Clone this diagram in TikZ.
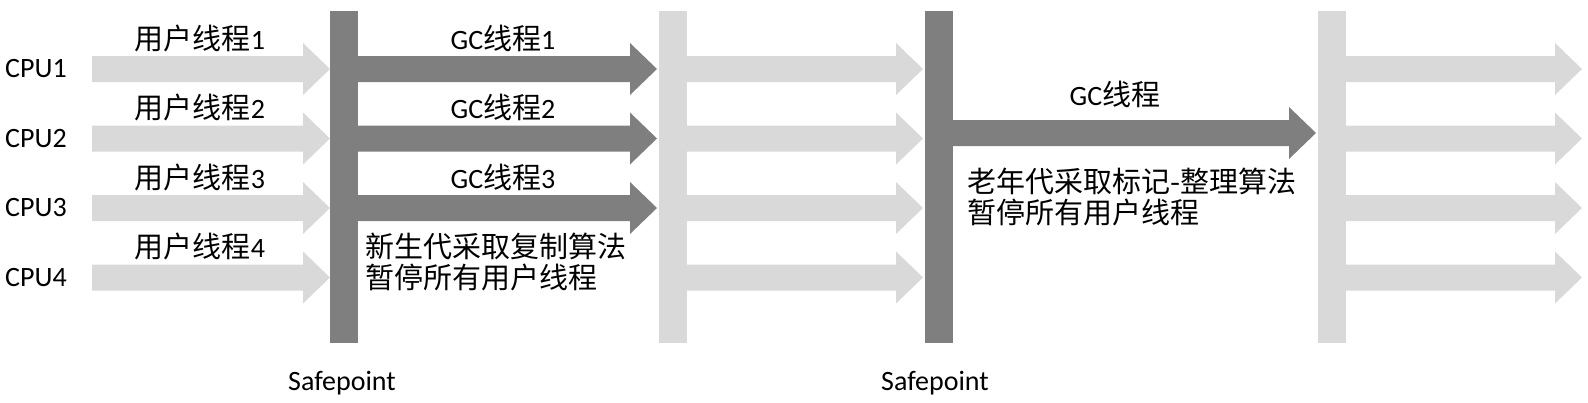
\documentclass[tikz,border=0pt]{standalone}
\usepackage{fontspec}
\setmainfont{Carlito}
\newfontfamily\cjk{Noto Sans CJK SC}
\definecolor{darkg}{HTML}{7F7F7F}
\definecolor{lightg}{HTML}{D9D9D9}
\newcommand\barrow[4]{\fill[#1] (#2,#4-13) -- (#3-27,#4-13) -- (#3-27,#4-26) -- (#3,#4) -- (#3-27,#4+26) -- (#3-27,#4+13) -- (#2,#4+13) -- cycle;}
\begin{document}
\begin{tikzpicture}[x=1pt,y=-1pt,
  lbl/.style={inner sep=0pt,font=\fontsize{28}{31}\selectfont},
  multi/.style={inner sep=0pt,anchor=west,align=left,font=\fontsize{29}{31}\selectfont\cjk},
  darkbar/.style={fill=darkg,draw=none,inner sep=0pt,minimum width=28pt,minimum height=332pt},
  lightbar/.style={fill=lightg,draw=none,inner sep=0pt,minimum width=28pt,minimum height=332pt}]
\useasboundingbox (0,0) rectangle (1588,402);
% arrows
\foreach \y in {69,138.5,208,277.5}{
  \barrow{lightg}{92}{330}{\y}
  \barrow{lightg}{687}{923}{\y}
  \barrow{lightg}{1346}{1582}{\y}
}
\foreach \y in {69,138.5,208}{
  \barrow{darkg}{358}{657}{\y}
}
\barrow{darkg}{953}{1316}{133}
% bars
\node[darkbar] (sp1) at (344,177) {};
\node[lightbar] (b2) at (673,177) {};
\node[darkbar] (sp2) at (939,177) {};
\node[lightbar] (b4) at (1332,177) {};
% labels
\node[lbl] (c1) at (36,69) {CPU1};
\node[lbl] (c2) at (36,138.5) {CPU2};
\node[lbl] (c3) at (36,208) {CPU3};
\node[lbl] (c4) at (36,277.5) {CPU4};
\node[lbl] (u1) at (200,38) {{\fontsize{29}{31}\cjk 用户线程}1};
\node[lbl] (u2) at (200,107) {{\fontsize{29}{31}\cjk 用户线程}2};
\node[lbl] (u3) at (200,177) {{\fontsize{29}{31}\cjk 用户线程}3};
\node[lbl] (u4) at (200,246) {{\fontsize{29}{31}\cjk 用户线程}4};
\node[lbl] (g1) at (503,38) {GC{\fontsize{29}{31}\cjk 线程}1};
\node[lbl] (g2) at (503,107) {GC{\fontsize{29}{31}\cjk 线程}2};
\node[lbl] (g3) at (503,177) {GC{\fontsize{29}{31}\cjk 线程}3};
\node[lbl] (g) at (1115,94) {GC{\fontsize{29}{31}\cjk 线程}};
\node[multi] (t1) at (365,262) {新生代采取复制算法\\暂停所有用户线程};
\node[multi] (t2) at (967,197) {老年代采取标记-整理算法\\暂停所有用户线程};
\node[lbl] (s1) at (342,383) {Safepoint};
\node[lbl] (s2) at (935,383) {Safepoint};
\end{tikzpicture}
\end{document}
